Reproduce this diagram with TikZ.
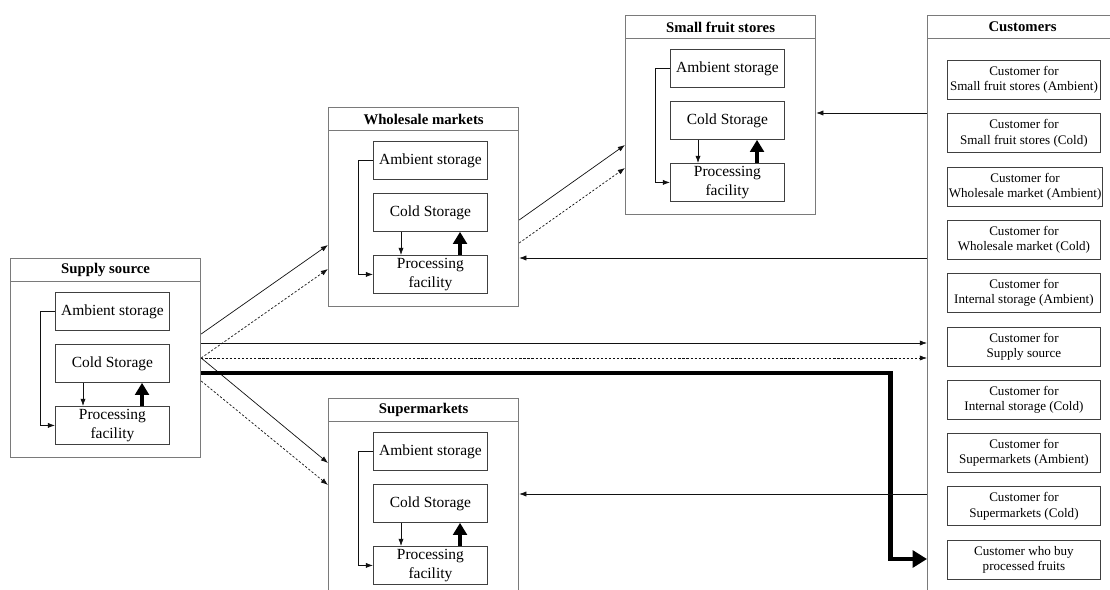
\documentclass[tikz,border=0pt]{standalone}
\usepackage{fontspec}
\setmainfont{Liberation Serif}
\newfontfamily\chainserif{Liberation Serif}
\usepackage{tikz}
\usetikzlibrary{arrows.meta, positioning, calc}
\definecolor{chainframe}{HTML}{7a7a7a}
\definecolor{chainbox}{HTML}{404040}
\definecolor{chainink}{HTML}{111111}
\tikzset{
  panel/.style={draw=chainframe, line width=0.8pt, minimum width=4.75cm,
                minimum height=4.975cm, inner sep=0pt},
  paneltitle/.style={draw=chainframe, line width=0.8pt, minimum width=4.75cm,
                     minimum height=0.58cm, inner sep=0pt,
                     font=\chainserif\fontsize{10.5}{12}\selectfont\bfseries},
  store/.style={draw=chainbox, line width=0.6pt, minimum width=2.85cm,
                minimum height=0.95cm, inner sep=1pt, align=center,
                font=\chainserif\fontsize{11}{13}\selectfont},
  custbox/.style={draw=chainbox, line width=0.6pt, minimum width=3.825cm,
                  minimum height=0.975cm, inner sep=1pt, align=center,
                  font=\chainserif\fontsize{9.3}{10.8}\selectfont},
  flow/.style={-{Latex[length=1.8mm,width=1.3mm]}, line width=0.5pt, draw=chainink},
  dflow/.style={flow, dash pattern=on 1.6pt off 1.3pt},
  lift/.style={-{Triangle[length=3mm,width=3.4mm]}, line width=2.7pt},
  bigflow/.style={-{Triangle[length=3.6mm,width=4.2mm]}, line width=3.5pt}
}
\begin{document}
\begin{tikzpicture}[x=0.025cm, y=-0.025cm]
    \useasboundingbox (0,0) rectangle (1110,590);
    \clip (0,0) rectangle (1110,590);
    \foreach \g/\gx/\gy/\ttl in {sup/10/258/Supply source, whs/328/107/Wholesale markets,
                                 sfs/625/15/Small fruit stores, smk/328/398/Supermarkets} {
      \node[panel, anchor=north west] (\g) at (\gx,\gy) {};
      \node[paneltitle, anchor=north] (\g-title) at (\g.north) {\ttl};
      \node[store, anchor=north west] (\g-amb) at ([shift={(45,34)}]\g.north west) {Ambient storage};
      \node[store, anchor=north west] (\g-cold) at ([shift={(45,86)}]\g.north west) {Cold Storage};
      \node[store, anchor=north west] (\g-proc) at ([shift={(45,148)}]\g.north west) {Processing\\facility};
      \draw[flow] (\g-amb.west) -- ++(-15,0) |- (\g-proc.west);
      \draw[flow] ([xshift=0.7cm]\g-cold.south west) -- ([xshift=0.7cm]\g-proc.north west);
      \draw[lift] ([xshift=2.175cm]\g-proc.north west) -- ([xshift=2.175cm]\g-cold.south west);
    }
    \node[panel, anchor=north west, minimum height=16cm] (cus) at (927,15) {};
    \node[paneltitle, anchor=north] (cus-title) at (cus.north) {Customers};
    \foreach \i/\txt in {1/{Customer for\\Small fruit stores (Ambient)},
                         2/{Customer for\\Small fruit stores (Cold)},
                         3/{Customer for\\Wholesale market (Ambient)},
                         4/{Customer for\\Wholesale market (Cold)},
                         5/{Customer for\\Internal storage (Ambient)},
                         6/{Customer for\\Supply source},
                         7/{Customer for\\Internal storage (Cold)},
                         8/{Customer for\\Supermarkets (Ambient)},
                         9/{Customer for\\Supermarkets (Cold)},
                         10/{Customer who buy\\processed fruits}} {
      \node[custbox, anchor=north west] (c\i) at ([shift={(20,{45+53.3*(\i-1)})}]cus.north west) {\txt};
    }
    \draw[flow] ([shift={(0,76)}]sup.north east) -- ([shift={(0,138)}]whs.north west);
    \draw[dflow] ([shift={(0,100)}]sup.north east) -- ([shift={(0,162)}]whs.north west);
    \draw[flow] ([shift={(0,100)}]sup.north east) -- ([shift={(0,65)}]smk.north west);
    \draw[dflow] ([shift={(0,123)}]sup.north east) -- ([shift={(0,87)}]smk.north west);
    \draw[flow] ([shift={(0,113)}]whs.north east) -- ([shift={(0,130)}]sfs.north west);
    \draw[dflow] ([shift={(0,136)}]whs.north east) -- ([shift={(0,153)}]sfs.north west);
    \draw[flow] ([shift={(0,85)}]sup.north east) -- ([shift={(0,328)}]cus.north west);
    \draw[dflow] ([shift={(0,100)}]sup.north east) -- ([shift={(0,343)}]cus.north west);
    \draw[bigflow] ([shift={(0,115)}]sup.north east) -- ++(689,0) |- ([shift={(0,544)}]cus.north west);
    \draw[flow] ([shift={(0,98)}]cus.north west) -- ([shift={(0,98)}]sfs.north east);
    \draw[flow] ([shift={(0,243)}]cus.north west) -- ([shift={(0,151)}]whs.north east);
    \draw[flow] ([shift={(0,479)}]cus.north west) -- ([shift={(0,96)}]smk.north east);
  \end{tikzpicture}
\end{document}
